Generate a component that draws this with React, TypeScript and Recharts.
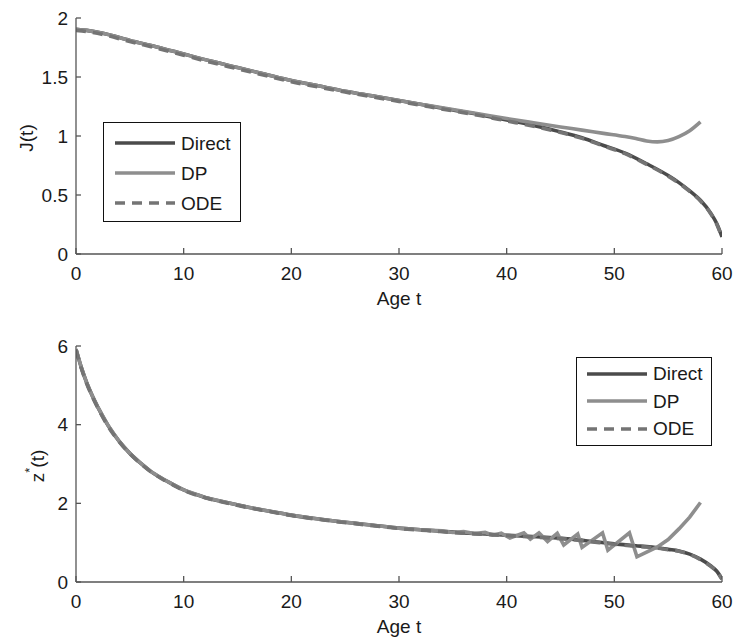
import React from 'react';
import { LineChart, Line, XAxis, YAxis, Legend, Label } from 'recharts';

// ---- Top panel: J(t) ----
const tJ = [0, 1, 2.5, 5, 7.5, 10, 12.5, 15, 17.5, 20, 22.5, 25, 27.5, 30, 32.5, 35, 37.5, 40, 42.5, 45, 47, 49, 51, 53, 55, 56, 57, 58, 59, 59.5, 60];
const jDirect = [1.905, 1.895, 1.87, 1.81, 1.755, 1.695, 1.635, 1.58, 1.525, 1.47, 1.425, 1.38, 1.34, 1.3, 1.26, 1.22, 1.18, 1.135, 1.09, 1.035, 0.985, 0.92, 0.855, 0.765, 0.665, 0.605, 0.535, 0.455, 0.34, 0.26, 0.145];
const jODE = [1.895, 1.885, 1.86, 1.8, 1.745, 1.685, 1.625, 1.57, 1.515, 1.46, 1.415, 1.372, 1.332, 1.293, 1.253, 1.213, 1.173, 1.128, 1.083, 1.03, 0.98, 0.915, 0.85, 0.76, 0.66, 0.6, 0.53, 0.45, 0.335, 0.255, 0.14];
const tJdp = [0, 1, 2.5, 5, 7.5, 10, 12.5, 15, 17.5, 20, 22.5, 25, 27.5, 30, 32.5, 35, 37.5, 40, 42.5, 45, 47, 49, 51, 52, 53, 54, 55, 56, 57, 58];
const jDP = [1.905, 1.895, 1.87, 1.81, 1.755, 1.695, 1.635, 1.58, 1.525, 1.47, 1.425, 1.38, 1.34, 1.3, 1.262, 1.225, 1.187, 1.148, 1.112, 1.077, 1.05, 1.022, 0.995, 0.978, 0.958, 0.95, 0.962, 0.995, 1.045, 1.12];

// ---- Bottom panel: z*(t) ----
const tZ = [0, 0.5, 1, 1.5, 2, 3, 4, 5, 6, 7, 8, 9, 10, 12, 14, 16, 18, 20, 22, 24, 26, 28, 30, 32, 34, 36, 38, 40, 42, 44, 46, 48, 50, 52, 53, 54, 55, 56, 57, 58, 59, 59.5, 60];
const zDirect = [5.92, 5.45, 5.06, 4.74, 4.46, 3.97, 3.58, 3.27, 3.02, 2.8, 2.63, 2.48, 2.34, 2.15, 2.02, 1.9, 1.8, 1.7, 1.62, 1.55, 1.49, 1.43, 1.37, 1.33, 1.29, 1.25, 1.22, 1.19, 1.16, 1.13, 1.09, 1.03, 0.97, 0.92, 0.9, 0.87, 0.83, 0.79, 0.71, 0.58, 0.4, 0.28, 0.08];
const zODE = [5.9, 5.43, 5.04, 4.72, 4.44, 3.95, 3.57, 3.26, 3.01, 2.79, 2.62, 2.47, 2.33, 2.14, 2.01, 1.89, 1.79, 1.69, 1.61, 1.54, 1.48, 1.42, 1.36, 1.32, 1.28, 1.24, 1.21, 1.18, 1.15, 1.12, 1.08, 1.02, 0.96, 0.91, 0.89, 0.86, 0.82, 0.78, 0.7, 0.57, 0.39, 0.27, 0.07];
const tZdp = [0, 0.5, 1, 1.5, 2, 3, 4, 5, 6, 7, 8, 9, 10, 12, 14, 16, 18, 20, 22, 24, 26, 28, 30, 32, 34, 35, 36, 37, 38, 38.7, 39.5, 40.3, 41.6, 42.2, 43.0, 43.8, 44.7, 45.3, 46.6, 47.0, 48.9, 49.4, 51.4, 52.1, 53, 54, 55, 56, 57, 58];
const zDP = [5.92, 5.45, 5.06, 4.74, 4.46, 3.97, 3.58, 3.27, 3.02, 2.8, 2.63, 2.48, 2.34, 2.15, 2.02, 1.9, 1.8, 1.7, 1.62, 1.55, 1.49, 1.43, 1.37, 1.33, 1.3, 1.26, 1.28, 1.23, 1.26, 1.19, 1.24, 1.12, 1.25, 1.09, 1.25, 1.03, 1.24, 0.94, 1.22, 0.88, 1.25, 0.81, 1.25, 0.64, 0.76, 0.89, 1.08, 1.35, 1.65, 2.02];

const xTicks = [0, 10, 20, 30, 40, 50, 60];
const jTicks = [0, 0.5, 1, 1.5, 2];
const zTicks = [0, 2, 4, 6];
const seriesNames = ['Direct', 'DP', 'ODE'];

const FONT = '"Liberation Sans", Arial, Helvetica, sans-serif';
const LW = 3.6;
const STYLES: Record<string, { color: string; dash?: string }> = {
  Direct: { color: '#4b4b4b' },
  DP: { color: '#8e8e8e' },
  ODE: { color: '#747474', dash: '10 7' },
};

const toData = (ts: number[], vs: number[]) => ts.map((t, i) => ({ t, v: vs[i] }));

const axisColor = '#555';
const tickStyle = { fontSize: 19, fill: '#1a1a1a', fontFamily: FONT };

function makeLegend(box: { left: number; top: number; width: number; height: number; rowH: number; padTop: number; lineL: number; lineW: number; gap: number }) {
  return () => (
    <div
      style={{
        width: box.width,
        height: box.height,
        boxSizing: 'border-box',
        border: '1.5px solid #111',
        background: '#fff',
        paddingTop: box.padTop,
        fontFamily: FONT,
        fontSize: 19,
        color: '#1a1a1a',
      }}
    >
      {seriesNames.map((n) => (
        <div key={n} style={{ display: 'flex', alignItems: 'center', height: box.rowH }}>
          <svg width={box.lineL + box.lineW} height={8} style={{ display: 'block' }}>
            <line
              x1={box.lineL}
              x2={box.lineL + box.lineW}
              y1={4}
              y2={4}
              stroke={STYLES[n].color}
              strokeWidth={LW}
              strokeDasharray={STYLES[n].dash}
            />
          </svg>
          <span style={{ marginLeft: box.gap, lineHeight: 1 }}>{n}</span>
        </div>
      ))}
    </div>
  );
}

const xLabel = (props: any) => {
  const vb = props.viewBox || {};
  return (
    <text x={vb.x + vb.width / 2} y={vb.y + 51} textAnchor="middle" style={{ fontSize: 19, fontFamily: FONT }} fill="#1a1a1a">
      Age t
    </text>
  );
};

const yLabelJ = (props: any) => {
  const vb = props.viewBox || {};
  const x = vb.x + vb.width - 43;
  const y = vb.y + vb.height / 2 + 2;
  return (
    <text x={x} y={y} transform={`rotate(-90, ${x}, ${y})`} textAnchor="middle" style={{ fontSize: 19, fontFamily: FONT }} fill="#1a1a1a">
      J(t)
    </text>
  );
};

const yLabelZ = (props: any) => {
  const vb = props.viewBox || {};
  const x = vb.x + vb.width - 32;
  const y = vb.y + vb.height / 2 + 2;
  return (
    <text x={x} y={y} transform={`rotate(-90, ${x}, ${y})`} textAnchor="middle" style={{ fontSize: 19, fontFamily: FONT }} fill="#1a1a1a">
      <tspan>z</tspan>
      <tspan dy={-10} style={{ fontSize: 13 }}>*</tspan>
      <tspan dy={10}>(t)</tspan>
    </text>
  );
};

function Panel(props: {
  height: number;
  margin: any;
  yDomain: number[];
  yTicks: number[];
  direct: any[];
  dp: any[];
  ode: any[];
  dpType: 'linear' | 'monotone';
  yLabel: any;
  legend: any;
}) {
  return (
    <LineChart width={735} height={props.height} margin={props.margin}>
      <XAxis
        type="number"
        dataKey="t"
        domain={[0, 60]}
        ticks={xTicks}
        height={50}
        tickSize={-6}
        tickMargin={19}
        stroke={axisColor}
        strokeWidth={1.3}
        tick={tickStyle}
        allowDataOverflow
      >
        <Label content={xLabel} />
      </XAxis>
      <YAxis
        type="number"
        domain={props.yDomain}
        ticks={props.yTicks}
        width={60}
        tickSize={-5}
        tickMargin={13}
        stroke={axisColor}
        strokeWidth={1.3}
        tick={tickStyle}
        allowDataOverflow
        interval={0}
      >
        <Label content={props.yLabel} />
      </YAxis>
      <Line data={props.direct} dataKey="v" name="Direct" type="monotone" stroke={STYLES.Direct.color} strokeWidth={LW} dot={false} isAnimationActive={false} />
      <Line data={props.dp} dataKey="v" name="DP" type={props.dpType} stroke={STYLES.DP.color} strokeWidth={LW} dot={false} isAnimationActive={false} strokeLinejoin="miter" />
      <Line data={props.ode} dataKey="v" name="ODE" type="monotone" stroke={STYLES.ODE.color} strokeWidth={LW} strokeDasharray={STYLES.ODE.dash} dot={false} isAnimationActive={false} />
      <Legend
        layout="horizontal"
        verticalAlign="middle"
        align="center"
        content={props.legend.content}
        wrapperStyle={{ left: props.legend.left, top: props.legend.top, width: props.legend.width, height: props.legend.height }}
      />
    </LineChart>
  );
}

const topLegendBox = { left: 103, top: 122, width: 138, height: 100, rowH: 30, padTop: 5, lineL: 11, lineW: 60, gap: 6 };
const bottomLegendBox = { left: 576, top: 37, width: 136, height: 89, rowH: 27.5, padTop: 2, lineL: 10, lineW: 60, gap: 6 };

export default function App() {
  return (
    <div style={{ position: 'absolute', left: 0, top: 0, width: 735, height: 642, background: '#fff' }}>
      <Panel
        height={320}
        margin={{ top: 18, right: 13, left: 16, bottom: 16 }}
        yDomain={[0, 2]}
        yTicks={jTicks}
        direct={toData(tJ, jDirect)}
        dp={toData(tJdp, jDP)}
        ode={toData(tJ, jODE)}
        dpType="monotone"
        yLabel={yLabelJ}
        legend={{ ...topLegendBox, content: makeLegend(topLegendBox) }}
      />
      <Panel
        height={322}
        margin={{ top: 26, right: 13, left: 16, bottom: 10 }}
        yDomain={[0, 6]}
        yTicks={zTicks}
        direct={toData(tZ, zDirect)}
        dp={toData(tZdp, zDP)}
        ode={toData(tZ, zODE)}
        dpType="linear"
        yLabel={yLabelZ}
        legend={{ ...bottomLegendBox, content: makeLegend(bottomLegendBox) }}
      />
    </div>
  );
}
